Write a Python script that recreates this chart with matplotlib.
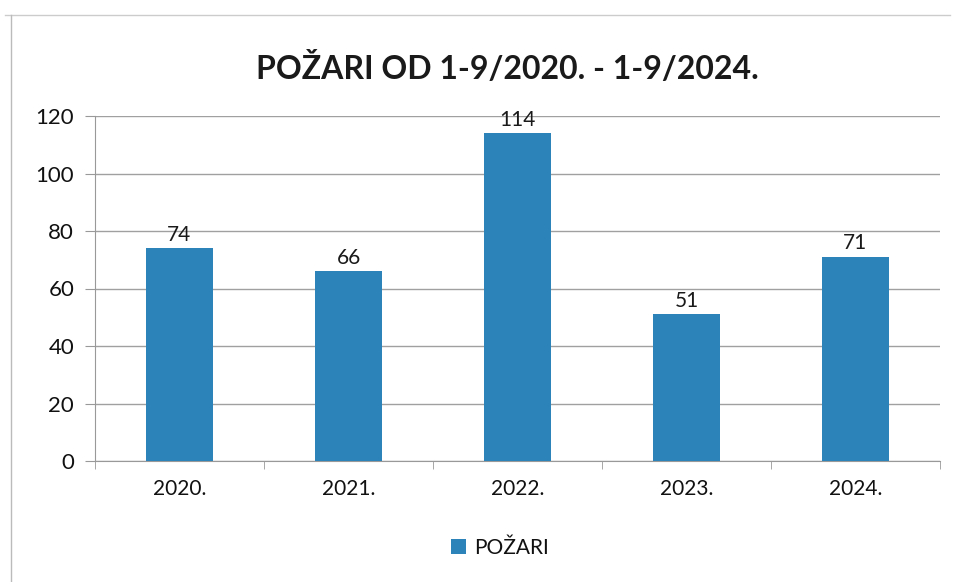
import matplotlib.pyplot as plt
import numpy as np

# podaci
godine = ['2020.', '2021.', '2022.', '2023.', '2024.']
pozari = [74, 66, 114, 51, 71]
y_ticks = [0, 20, 40, 60, 80, 100, 120]

plt.rcParams['font.family'] = ['Lato', 'DejaVu Sans']

fig = plt.figure(figsize=(9.54, 5.82), dpi=100)
ax = fig.add_axes([95 / 954, 1 - 461 / 582, 845 / 954, 345 / 582])

x = np.arange(len(godine))
bars = ax.bar(x, pozari, width=0.4, color='#2B83BA', label='POŽARI', zorder=3)

for xi, v in zip(x, pozari):
    ax.text(xi, v + 1.3, str(v), ha='center', va='bottom', fontsize=15, color='#1a1a1a')

ax.set_xlim(-0.5, len(godine) - 0.5)
ax.set_ylim(0, 120)
ax.set_yticks(y_ticks)
ax.set_xticks(x)
ax.set_xticklabels(godine)
ax.set_xticks(np.arange(-0.5, len(godine)), minor=True)
ax.tick_params(axis='x', which='major', length=0, pad=13, labelsize=15, labelcolor='#111111')
ax.tick_params(axis='x', which='minor', length=6, color='#999999')
ax.tick_params(axis='y', length=7, color='#999999', labelsize=16, pad=8, labelcolor='#111111')
ax.grid(axis='y', color='#a0a0a0', linewidth=1, zorder=0)

for s in ['top', 'right']:
    ax.spines[s].set_visible(False)
ax.spines['left'].set_color('#999999')
ax.spines['bottom'].set_color('#999999')

fig.text(507 / 954, 1 - 68 / 582, 'POŽARI OD 1-9/2020. - 1-9/2024.',
         ha='center', va='center', fontsize=23, fontweight='bold', color='#1a1a1a')

fig.legend(handles=[bars], labels=['POŽARI'], loc='center', bbox_to_anchor=(500 / 954, 1 - 548 / 582),
           frameon=False, fontsize=15, handlelength=0.7, handleheight=0.7, handletextpad=0.4,
           labelcolor='#111111')

# okvir grafikona
fig.add_artist(plt.Line2D([5 / 954, 950 / 954], [1 - 15 / 582, 1 - 15 / 582], color='#cccccc', lw=1))
fig.add_artist(plt.Line2D([11 / 954, 11 / 954], [1 - 15 / 582, 0], color='#bbbbbb', lw=1))

plt.savefig('out.png', dpi=100)
